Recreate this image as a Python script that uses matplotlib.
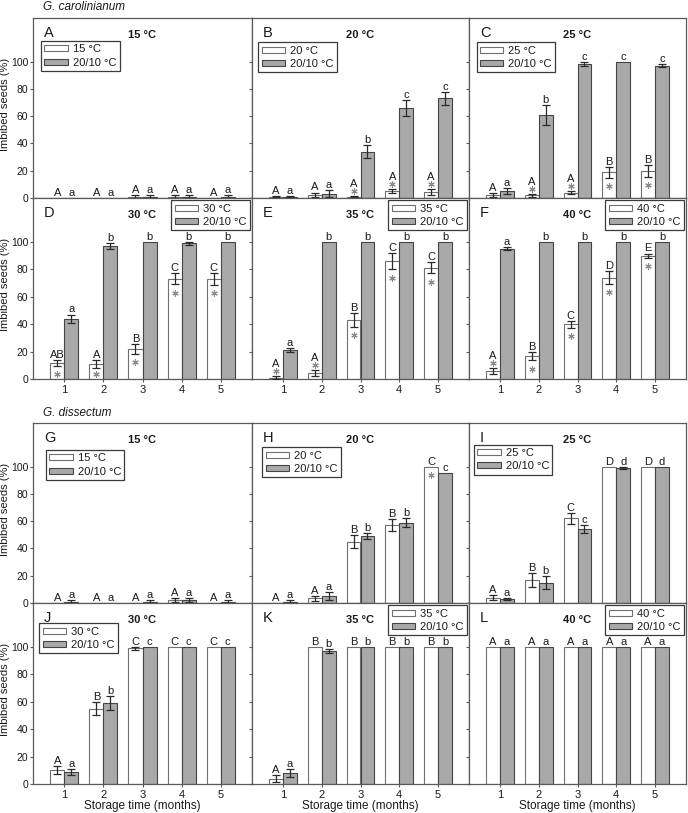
import matplotlib
matplotlib.use('Agg')
import matplotlib.pyplot as plt
import numpy as np

plt.rcParams['font.family'] = ['Liberation Sans', 'DejaVu Sans']

months = [1, 2, 3, 4, 5]
month_labels = ['1', '2', '3', '4', '5']
alt_label = '20/10 °C'

# ---------------- G. carolinianum ----------------
A_temp = '15 °C'
A_const = [0, 0, 1, 1, 0]
A_const_err = [0, 0, 1, 1, 0]
A_alt = [0, 0, 1, 1, 1]
A_alt_err = [0, 0, 1, 1, 1]
A_const_let = ['A', 'A', 'A', 'A', 'A']
A_alt_let = ['a', 'a', 'a', 'a', 'a']
A_star = [0, 0, 0, 0, 0]

B_temp = '20 °C'
B_const = [1, 2.5, 1, 5, 4.5]
B_const_err = [0.5, 1.5, 0.5, 1.5, 2]
B_alt = [1, 3, 34, 66, 73]
B_alt_err = [0.5, 2.5, 5, 6, 5]
B_const_let = ['A', 'A', 'A', 'A', 'A']
B_alt_let = ['a', 'a', 'b', 'c', 'c']
B_star = [0, 0, 1, 1, 1]

C_temp = '25 °C'
C_const = [2, 2, 4, 19, 20]
C_const_err = [1.5, 1, 1, 4, 4.5]
C_alt = [5, 61, 98, 100, 97]
C_alt_err = [2, 7.5, 1.5, 0, 1]
C_const_let = ['A', 'A', 'A', 'B', 'B']
C_alt_let = ['a', 'b', 'c', 'c', 'c']
C_star = [0, 1, 1, 1, 1]

D_temp = '30 °C'
D_const = [11.5, 11, 22, 73, 73]
D_const_err = [2, 3, 3.5, 4, 4.5]
D_alt = [44, 97, 100, 99, 100]
D_alt_err = [3, 2, 0, 1, 0]
D_const_let = ['AB', 'A', 'B', 'C', 'C']
D_alt_let = ['a', 'b', 'b', 'b', 'b']
D_star = [1, 1, 1, 1, 1]

E_temp = '35 °C'
E_const = [1, 4.5, 43, 86, 81]
E_const_err = [1, 2, 5, 6, 4]
E_alt = [21, 100, 100, 100, 100]
E_alt_err = [1.5, 0, 0, 0, 0]
E_const_let = ['A', 'A', 'B', 'C', 'C']
E_alt_let = ['a', 'b', 'b', 'b', 'b']
E_star = [1, 1, 1, 1, 1]

F_temp = '40 °C'
F_const = [6, 16.5, 40, 74, 90]
F_const_err = [2, 3, 2.5, 4.5, 1.5]
F_alt = [95, 100, 100, 100, 100]
F_alt_err = [1, 0, 0, 0, 0]
F_const_let = ['A', 'B', 'C', 'D', 'E']
F_alt_let = ['a', 'b', 'b', 'b', 'b']
F_star = [1, 1, 1, 1, 1]

# ---------------- G. dissectum ----------------
G_temp = '15 °C'
G_const = [0, 0.3, 0, 2, 0]
G_const_err = [0, 0, 0, 1.5, 0]
G_alt = [1, 0, 1, 2, 1]
G_alt_err = [1, 0, 1, 1.5, 1]
G_const_let = ['A', 'A', 'A', 'A', 'A']
G_alt_let = ['a', 'a', 'a', 'a', 'a']
G_star = [0, 0, 0, 0, 0]

H_temp = '20 °C'
H_const = [0, 3.4, 45, 57, 100]
H_const_err = [0, 2, 5, 4.5, 0]
H_alt = [1, 5, 49, 59, 95]
H_alt_err = [1, 3, 2, 3, 0]
H_const_let = ['A', 'A', 'B', 'B', 'C']
H_alt_let = ['a', 'a', 'b', 'b', 'c']
H_star = [0, 0, 0, 0, 1]

I_temp = '25 °C'
I_const = [4, 17, 62, 100, 100]
I_const_err = [2, 5, 4, 0, 0]
I_alt = [3, 15, 54, 99, 100]
I_alt_err = [1, 4.5, 3, 0.5, 0]
I_const_let = ['A', 'B', 'C', 'D', 'D']
I_alt_let = ['a', 'b', 'c', 'd', 'd']
I_star = [0, 0, 0, 0, 0]

J_temp = '30 °C'
J_const = [10, 55, 99, 100, 100]
J_const_err = [3, 5, 1, 0, 0]
J_alt = [8.6, 59, 100, 100, 100]
J_alt_err = [2.2, 5, 0, 0, 0]
J_const_let = ['A', 'B', 'C', 'C', 'C']
J_alt_let = ['a', 'b', 'c', 'c', 'c']
J_star = [0, 0, 0, 0, 0]

K_temp = '35 °C'
K_const = [4, 100, 100, 100, 100]
K_const_err = [2.5, 0, 0, 0, 0]
K_alt = [8, 97, 100, 100, 100]
K_alt_err = [3, 1.5, 0, 0, 0]
K_const_let = ['A', 'B', 'B', 'B', 'B']
K_alt_let = ['a', 'b', 'b', 'b', 'b']
K_star = [0, 0, 0, 0, 0]

L_temp = '40 °C'
L_const = [100, 100, 100, 100, 100]
L_const_err = [0, 0, 0, 0, 0]
L_alt = [100, 100, 100, 100, 100]
L_alt_err = [0, 0, 0, 0, 0]
L_const_let = ['A', 'A', 'A', 'A', 'A']
L_alt_let = ['a', 'a', 'a', 'a', 'a']
L_star = [0, 0, 0, 0, 0]

panels = [
    ('A', A_temp, A_const, A_const_err, A_alt, A_alt_err, A_const_let, A_alt_let, A_star),
    ('B', B_temp, B_const, B_const_err, B_alt, B_alt_err, B_const_let, B_alt_let, B_star),
    ('C', C_temp, C_const, C_const_err, C_alt, C_alt_err, C_const_let, C_alt_let, C_star),
    ('D', D_temp, D_const, D_const_err, D_alt, D_alt_err, D_const_let, D_alt_let, D_star),
    ('E', E_temp, E_const, E_const_err, E_alt, E_alt_err, E_const_let, E_alt_let, E_star),
    ('F', F_temp, F_const, F_const_err, F_alt, F_alt_err, F_const_let, F_alt_let, F_star),
    ('G', G_temp, G_const, G_const_err, G_alt, G_alt_err, G_const_let, G_alt_let, G_star),
    ('H', H_temp, H_const, H_const_err, H_alt, H_alt_err, H_const_let, H_alt_let, H_star),
    ('I', I_temp, I_const, I_const_err, I_alt, I_alt_err, I_const_let, I_alt_let, I_star),
    ('J', J_temp, J_const, J_const_err, J_alt, J_alt_err, J_const_let, J_alt_let, J_star),
    ('K', K_temp, K_const, K_const_err, K_alt, K_alt_err, K_const_let, K_alt_let, K_star),
    ('L', L_temp, L_const, L_const_err, L_alt, L_alt_err, L_const_let, L_alt_let, L_star),
]

# legend placement per panel ('ul' = under the panel letter, 'ur' = upper right)
legend_pos = {'A': ('ul', 0.037, 0.872), 'B': ('ul', 0.029, 0.865), 'C': ('ul', 0.035, 0.865),
              'D': ('ur',), 'E': ('ur',), 'F': ('ur',),
              'G': ('ul', 0.059, 0.85), 'H': ('ul', 0.047, 0.865), 'I': ('ul', 0.023, 0.88),
              'J': ('ul', 0.029, 0.888), 'K': ('ur',), 'L': ('ur',)}

W, H = 688, 813
fig = plt.figure(figsize=(W / 100, H / 100), dpi=100)

col_l = [33, 252, 469]
col_r = [252, 469, 686]
row_t = [18, 198, 423, 603]
row_b = [198, 379, 603, 784]

frame_col = '#5a5a5a'
txt_col = '#1a1a1a'
gray_fill = '#a9a9a9'
bw = 0.36

for idx, (letter, temp, cv, ce, av, ae, cl, al, st) in enumerate(panels):
    r = idx // 3
    c = idx % 3
    rect = [col_l[c] / W, 1 - row_b[r] / H, (col_r[c] - col_l[c]) / W, (row_b[r] - row_t[r]) / H]
    ax = fig.add_axes(rect)
    x = np.array(months, dtype=float)
    cv = np.array(cv, float); ce = np.array(ce, float)
    av = np.array(av, float); ae = np.array(ae, float)
    xc = x - bw / 2
    xa = x + bw / 2
    ax.bar(xc, cv, bw, color='white', edgecolor='#707070', linewidth=0.8, label=temp, zorder=2)
    ax.bar(xa, av, bw, color=gray_fill, edgecolor='#454545', linewidth=0.8, label=alt_label, zorder=2)
    m = ce > 0
    if m.any():
        ax.errorbar(xc[m], cv[m], yerr=ce[m], fmt='none', ecolor='#2a2a2a', elinewidth=0.9,
                    capsize=3, capthick=0.9, zorder=3)
    m = ae > 0
    if m.any():
        ax.errorbar(xa[m], av[m], yerr=ae[m], fmt='none', ecolor='#2a2a2a', elinewidth=0.9,
                    capsize=3, capthick=0.9, zorder=3)
    for i in range(5):
        top = cv[i] + ce[i]
        ly = top + 1.5
        if st[i]:
            if cv[i] >= 10:
                ys = max(cv[i] - ce[i] - 6, 3.5)
            else:
                ys = top + 3.5
                ly = ys + 3.0
            ax.plot([xc[i]], [ys], linestyle='none', marker=(6, 2, 0), markersize=4.5,
                    color='#8a8a8a', markeredgewidth=0.8, zorder=4)
        ax.text(xc[i], ly, cl[i], ha='center', va='baseline', fontsize=8, color=txt_col, zorder=5)
        ax.text(xa[i], av[i] + ae[i] + 1.5, al[i], ha='center', va='baseline', fontsize=8,
                color=txt_col, zorder=5)

    ax.set_xlim(0.2, 5.8)
    ax.set_ylim(0, 132)
    ax.set_yticks([0, 20, 40, 60, 80, 100])
    ax.set_xticks(months)
    ax.tick_params(axis='both', direction='out', length=2, width=0.8, pad=1.5,
                   labelsize=7.5, colors=frame_col, labelcolor=txt_col)
    if c == 0:
        ax.set_yticklabels(['0', '20', '40', '60', '80', '100'])
    else:
        ax.set_yticklabels([])
    if r in (1, 3):
        ax.set_xticklabels(month_labels)
        ax.tick_params(axis='x', pad=2.5, labelsize=8)
    else:
        ax.set_xticklabels([])
    for s in ax.spines.values():
        s.set_color(frame_col)
        s.set_linewidth(0.9)

    ax.text(0.05, 0.915, letter, transform=ax.transAxes, ha='left', va='center',
            fontsize=10.5, color=txt_col)
    ax.text(0.5, 0.905, temp, transform=ax.transAxes, ha='center', va='center',
            fontsize=8, fontweight='bold', color=txt_col)

    lp = legend_pos[letter]
    common = dict(fontsize=8, handlelength=2.1, handleheight=0.45, labelspacing=0.3,
                  handletextpad=0.45, borderpad=0.3, fancybox=False, framealpha=1,
                  edgecolor='#3a3a3a')
    if lp[0] == 'ul':
        leg = ax.legend(loc='upper left', bbox_to_anchor=(lp[1], lp[2]), borderaxespad=0, **common)
    else:
        leg = ax.legend(loc='upper right', borderaxespad=0.2, **common)
    leg.get_frame().set_linewidth(0.9)
    for t in leg.get_texts():
        t.set_color(txt_col)

    if c == 0:
        fig.text(5 / W, 1 - ((row_t[r] + row_b[r]) / 2 - 4) / H, 'Imbibed seeds (%)', rotation=90,
                 ha='center', va='center', fontsize=8, color=txt_col)
    if r == 3:
        fig.text((col_l[c] + col_r[c]) / 2 / W, 1 - 806 / H, 'Storage time (months)',
                 ha='center', va='center', fontsize=8.5, color=txt_col)

fig.text(43 / W, 1 - 7 / H, 'G. carolinianum', style='italic', ha='left', va='center',
         fontsize=8.5, color=txt_col)
fig.text(43 / W, 1 - 413 / H, 'G. dissectum', style='italic', ha='left', va='center',
         fontsize=8.5, color=txt_col)

fig.savefig('out.png', dpi=100)
